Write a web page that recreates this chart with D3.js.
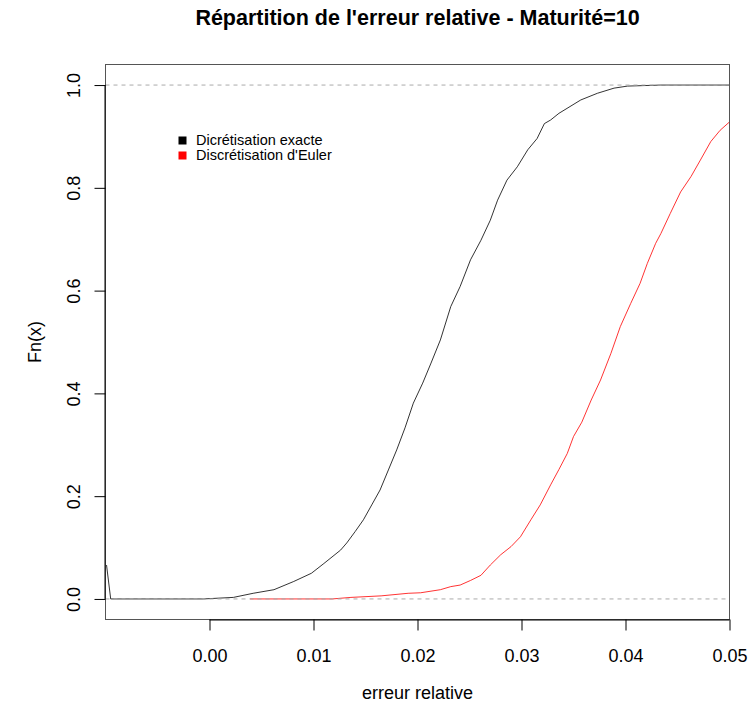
<!DOCTYPE html>
<html><head><meta charset="utf-8">
<script src="https://cdn.jsdelivr.net/npm/d3@7"></script>
<style>body{margin:0;background:#fff}svg{display:block}text{font-family:"Liberation Sans",Arial,sans-serif}</style>
</head><body>
<svg id="chart" width="749" height="708"></svg>
<script>
const title = "Répartition de l'erreur relative - Maturité=10";
const xLabel = "erreur relative";
const yLabel = "Fn(x)";
const xTicks = [0.00, 0.01, 0.02, 0.03, 0.04, 0.05];
const yTicks = [0.0, 0.2, 0.4, 0.6, 0.8, 1.0];
const seriesNames = ["Dicrétisation exacte", "Discrétisation d'Euler"];
const seriesColors = ["#000000", "#ff0000"];
const refLines = [0, 1];

// ECDF of the exact discretisation: [x, Fn(x)]
const exactX = [-0.0099,-0.0095,-0.0006,0.0023,0.0042,0.0062,0.0081,0.0098,0.0110,0.0126,0.0132,0.0140,0.0148,0.0156,0.0164,0.0172,0.0180,0.0188,0.0196,0.0205,0.0213,0.0222,0.0232,0.0241,0.0251,0.0261,0.0270,0.0277,0.0286,0.0296,0.0306,0.0315,0.0322,0.0328,0.0336,0.0357,0.0373,0.0389,0.0402,0.0434,0.0500];
const exactF = [0.066,0,0,0.003,0.011,0.018,0.034,0.050,0.069,0.095,0.109,0.131,0.154,0.183,0.212,0.251,0.290,0.333,0.381,0.420,0.459,0.504,0.569,0.608,0.660,0.698,0.737,0.776,0.815,0.841,0.874,0.896,0.925,0.932,0.945,0.971,0.984,0.994,0.998,1.0,1.0];

// ECDF of the Euler discretisation
const eulerX = [0.0039,0.0118,0.0136,0.0165,0.0191,0.0203,0.0222,0.0232,0.0241,0.0251,0.0261,0.0270,0.0280,0.0290,0.0299,0.0309,0.0318,0.0328,0.0336,0.0344,0.0350,0.0358,0.0367,0.0376,0.0386,0.0395,0.0405,0.0414,0.0421,0.0429,0.0434,0.0443,0.0453,0.0463,0.0472,0.0482,0.0491,0.0501];
const eulerF = [0,0,0.003,0.006,0.011,0.012,0.018,0.024,0.027,0.036,0.046,0.066,0.086,0.102,0.121,0.154,0.183,0.222,0.252,0.283,0.316,0.344,0.387,0.426,0.478,0.530,0.575,0.614,0.653,0.692,0.711,0.750,0.792,0.822,0.854,0.890,0.912,0.930];

const svg = d3.select("#chart");
const L = 105.5, R = 729.5, T = 64.5, B = 619.5;
const x = d3.scaleLinear().domain([-0.01, 0.05]).range([L, R]);
const y = d3.scaleLinear().domain([-0.04, 1.04]).range([B, T]);

svg.append("defs").append("clipPath").attr("id","clip")
  .append("rect").attr("x",L).attr("y",T).attr("width",R-L).attr("height",B-T);

const line = d3.line().x(d=>x(d[0])).y(d=>y(d[1]));
const series = [d3.zip(exactX, exactF), d3.zip(eulerX, eulerF)];
const g = svg.append("g").attr("clip-path","url(#clip)");
series.forEach((s,i)=>{
  g.append("path").datum(s).attr("d", line).attr("fill","none")
   .attr("stroke", seriesColors[i]).attr("stroke-width",1).attr("stroke-opacity",0.8);
});
refLines.forEach(v=>{
  g.append("line").attr("x1",L).attr("x2",R).attr("y1",y(v)).attr("y2",y(v))
   .attr("stroke","#aaaaaa").attr("stroke-width",1).attr("stroke-dasharray","4,4");
});

// box
svg.append("rect").attr("x",L).attr("y",T).attr("width",R-L).attr("height",B-T)
  .attr("fill","none").attr("stroke","#555").attr("stroke-width",1);

// x axis
const xa = svg.append("g").attr("transform",`translate(0,${B})`)
  .call(d3.axisBottom(x).tickValues(xTicks).tickFormat(d3.format(".2f")).tickSize(11).tickSizeOuter(0));
xa.select(".domain").attr("d", `M${x(xTicks[0])},0.5H${x(xTicks[xTicks.length-1])}`).attr("stroke","#000");
xa.selectAll("text").attr("font-size",18).attr("dy",null).attr("y",42.5).attr("fill","#000").attr("font-family","Liberation Sans, Arial, sans-serif");

// y axis
const ya = svg.append("g").attr("transform",`translate(${L},0)`)
  .call(d3.axisLeft(y).tickValues(yTicks).tickFormat(d3.format(".1f")).tickSize(11).tickSizeOuter(0));
ya.select(".domain").attr("d", `M-0.5,${y(yTicks[0])}V${y(yTicks[yTicks.length-1])}`).attr("stroke","#000");
ya.selectAll("text").attr("font-size",18).attr("x",null).attr("dy",null)
  .attr("text-anchor","middle").attr("fill","#000").attr("font-family","Liberation Sans, Arial, sans-serif")
  .attr("transform","translate(-26,0) rotate(-90)");

// titles
svg.append("text").attr("x",(L+R)/2).attr("y",25).attr("text-anchor","middle")
  .attr("font-size",21.5).attr("font-weight","bold").text(title);
svg.append("text").attr("x",(L+R)/2).attr("y",699).attr("text-anchor","middle")
  .attr("font-size",18).text(xLabel);
svg.append("text").attr("transform",`translate(41,${(T+B)/2}) rotate(-90)`).attr("text-anchor","middle")
  .attr("font-size",18).text(yLabel);

// legend
const lg = svg.append("g");
seriesNames.forEach((n,i)=>{
  lg.append("rect").attr("x",178.5).attr("y",136.5+i*15).attr("width",8).attr("height",8).attr("fill",seriesColors[i]);
  lg.append("text").attr("x",196).attr("y",145+i*15).attr("font-size",14.5).text(n);
});
</script>
</body></html>
